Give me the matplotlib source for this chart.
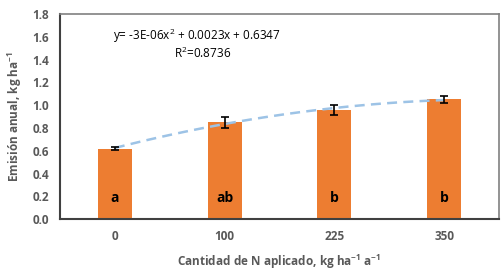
import numpy as np
import matplotlib.pyplot as plt

plt.rcParams['font.family'] = ['Open Sans', 'DejaVu Sans']
plt.rcParams['mathtext.fontset'] = 'custom'
plt.rcParams['mathtext.rm'] = 'Open Sans'
plt.rcParams['mathtext.it'] = 'Open Sans'
plt.rcParams['mathtext.bf'] = 'Open Sans:bold'
plt.rcParams['mathtext.default'] = 'regular'

# datos
dosis = ['0', '100', '225', '350']
emision = [0.62, 0.85, 0.96, 1.05]
error = [0.015, 0.05, 0.045, 0.03]
letras = ['a', 'ab', 'b', 'b']
ecuacion = 'y= -3E-06x$^{2}$ + 0.0023x + 0.6347'
r2 = 'R$^{2}$=0.8736'

gris = '#595959'

fig = plt.figure(figsize=(5.04, 2.74), dpi=100)
ax = fig.add_axes([0.119, 0.2, 0.871, 0.749])

x = np.arange(len(dosis))
ax.bar(x, emision, width=0.31, color='#ED7D31', zorder=2)
ax.errorbar(x, emision, yerr=error, fmt='none', ecolor='black',
            elinewidth=1.2, capsize=3, capthick=1.2, zorder=4)

# linea de tendencia (polinomica de grado 2)
coef = np.polyfit(x, emision, 2)
xs = np.linspace(0, len(dosis) - 1, 100)
ax.plot(xs, np.polyval(coef, xs), ls=(0, (4, 2.5)), color='#9DC3E6',
        lw=1.8, zorder=3)

for xi, letra in zip(x, letras):
    ax.text(xi, 0.19, letra, ha='center', va='center', fontsize=10,
            fontweight='bold', color='black', zorder=5)

ax.text(0.75, 1.61, ecuacion, ha='center', va='center', fontsize=8.5, color='black')
ax.text(0.8, 1.45, r2, ha='center', va='center', fontsize=8.5, color='black')

ax.set_xlim(-0.5, len(dosis) - 0.5)
ax.set_ylim(0, 1.8)
ax.set_yticks(np.arange(0, 1.81, 0.2))
ax.set_yticklabels(['%.1f' % v for v in np.arange(0, 1.81, 0.2)])
ax.set_xticks(x)
ax.set_xticklabels(dosis)
ax.tick_params(length=0, labelsize=8.5, labelcolor=gris, pad=8)
for lab in ax.get_xticklabels() + ax.get_yticklabels():
    lab.set_fontweight('bold')

for s in ['top', 'right']:
    ax.spines[s].set_color('#808080')
    ax.spines[s].set_linewidth(1.2)
for s in ['left', 'bottom']:
    ax.spines[s].set_color('#404040')
    ax.spines[s].set_linewidth(1.5)

ax.set_ylabel('Emisión anual, kg ha$^{-1}$', fontsize=8.5, fontweight='bold',
              color=gris, labelpad=6)
ax.set_xlabel('Cantidad de N aplicado, kg ha$^{-1}$ a$^{-1}$', fontsize=8.5,
              fontweight='bold', color=gris, labelpad=7)

fig.savefig('out.png', dpi=100)
